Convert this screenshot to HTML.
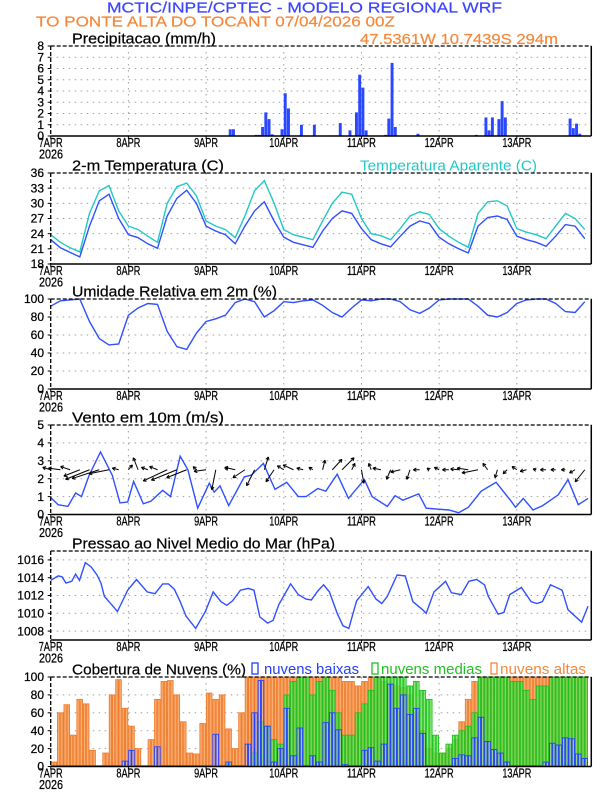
<!DOCTYPE html>
<html><head><meta charset="utf-8"><style>
html,body{margin:0;padding:0;background:#fff;}
svg{display:block;font-family:"Liberation Sans",sans-serif;}
</style></head><body>
<svg id="c" width="612" height="792" viewBox="0 0 612 792" xmlns="http://www.w3.org/2000/svg"></svg>
<script>
// ---------- data ----------
const dayLabels = ["7APR","8APR","9APR","10APR","11APR","12APR","13APR"];
const precipHours = [55,56,63,64,65,66,67,68,71,72,73,77,81,86,87,88,89,92,94,95,96,97,103,104,105,106,113,131,134,135,136,138,139,140,160,161,162,163];
const precipVals  = [0.6,0.6,0.1,0.1,0.8,2.1,1.5,0.15,0.6,3.8,2.45,1.0,1.0,0.05,0.05,0.05,1.15,0.5,2.1,5.45,4.3,0.5,0.1,1.55,6.5,0.8,0.2,0.1,1.65,0.5,1.65,1.5,3.1,1.65,1.55,0.7,1.1,0.2];
const tempTicks = [18,21,24,27,30,33,36];
const temp2m = [22.8,21.2,20.3,19.4,25.5,30.5,31.8,27.0,23.8,23.2,22.0,21.1,27.5,31.0,32.6,30.0,25.5,24.5,23.8,22.0,25.5,28.5,30.3,26.5,23.3,22.3,21.8,21.3,24.5,27.0,28.5,28.0,25.0,22.8,22.0,21.4,23.5,25.5,26.5,26.0,23.3,22.0,21.0,20.2,25.5,27.2,27.5,26.8,23.5,22.8,22.3,21.5,23.5,25.8,25.5,23.0];
const tempApar = [23.8,22.3,21.2,20.4,28.0,32.5,33.5,28.5,25.5,24.8,23.5,22.3,30.0,33.3,34.0,31.5,26.5,25.5,24.8,23.2,27.5,32.5,34.5,30.0,24.8,23.8,23.3,22.8,26.5,30.0,32.2,31.8,27.0,24.0,23.6,22.8,25.0,27.5,28.3,27.8,25.0,23.5,22.3,21.3,28.0,30.3,30.5,29.5,25.0,24.3,23.8,23.0,25.5,28.0,27.0,24.8];
const rhVals = [92,98,99,100,75,56,49,50,82,90,95,94,64,47,44,62,75,78,82,96,100,97,80,87,97,96,98,99,93,85,80,90,99,98,100,100,97,88,84,90,99,100,100,100,92,82,80,85,95,99,100,100,95,86,85,97];
const windHours = [0,2.3,5.3,7.7,9.5,11.9,15.4,19,21.4,23.8,25.6,28.6,31,34.6,37,40,42.4,45.4,49,50.5,52.3,55,59.8,62,65.7,69.3,72.9,76.5,78.9,82.5,85,88.5,92,96.9,99.3,104,106.4,108.8,113.7,116,123,126,129,133,137.6,142,143.6,146,149,152,156.8,159.8,163,166];
const windSpeed = [0.95,0.55,0.45,1.2,1.0,2.2,3.5,2.2,0.65,0.7,1.85,0.6,0.75,1.35,1.0,3.25,2.5,0.35,1.75,1.25,1.6,0.5,2.1,2.2,2.85,1.4,1.8,1.0,1.0,1.45,1.3,2.25,0.9,1.95,1.0,0.45,1.05,0.8,1.15,0.35,0.25,0.1,0.4,1.3,1.8,0.8,0.4,0.9,0.25,0.5,1.1,1.95,0.55,0.9];
const windU = [-1,-1.5,-1.2,-2,-3,-3.4,-2.5,-0.8,0.5,-0.6,-0.8,-1,-3,-3.2,-2.5,-0.4,-1.5,-0.5,0.3,-1.3,-1.5,-1,0.5,-1,-0.8,-1.3,-0.8,-0.5,0.3,1.2,1.5,0.4,0.3,-0.3,-1,-0.5,-1.2,-0.4,-0.8,-0.3,-0.6,-0.8,-1,-1.4,-2,-0.6,-0.3,-0.5,-0.6,-0.8,-0.4,-0.7,-0.6,-0.5,-0.7,-1.2];
const windV = [0.3,0.2,0.4,-0.8,-1.2,-1.1,-0.5,0.2,0.6,1.5,0.3,0.4,-1.4,-1.3,-1,0.4,-0.2,-2.5,0.3,0.3,-1,-2,1.6,-1.5,0.5,0.6,0.2,0.3,1.2,1.3,1.5,0.8,-1.7,0.8,0.2,-1.2,-0.3,-1.2,0,0.2,0.3,0,0.1,0.2,-0.4,0.8,-1,-0.5,0.4,-0.2,0.1,0,0,0,-0.4,-1.5];
const presTicks = [1008,1010,1012,1014,1016];
const presHours = [0,2.3,3.5,4.7,6.5,7.7,8.9,10.7,12.5,14.3,15.5,16.6,19,20.6,23.8,26.5,29.8,32.2,34.6,36.4,38.2,40,41.8,44.8,47.8,50.2,52.6,54.4,56.2,58.6,61,62.8,64.6,67,68.7,70.5,74.1,76.5,78.9,80.5,82.5,84.3,86.1,88.5,90.3,92.1,94.5,98.1,100.5,102.3,104,107,109.5,111.9,114.9,116,118.4,122,123.8,126.8,129.2,131.6,134,135.2,138.2,140,141.8,145.4,148.4,150.2,151.9,154.4,156.8,158,159.8,164,166];
const presVals = [1013.7,1014.2,1014.1,1013.4,1013.6,1014.4,1013.7,1015.7,1015.2,1014.3,1013.4,1011.9,1010.9,1010.2,1012.6,1013.8,1012.4,1012.2,1013.3,1013.3,1012.7,1011.3,1009.7,1008.3,1010.2,1012.4,1011.3,1010.9,1011.4,1012.6,1012.8,1012.6,1009.6,1008.9,1009.2,1011.0,1013.3,1012.1,1011.6,1011.5,1012.5,1013.2,1012.4,1010.0,1008.6,1008.3,1011.4,1013.0,1011.6,1011.1,1011.9,1014.3,1014.2,1011.3,1010.4,1010.0,1012.4,1013.6,1012.3,1012.1,1013.6,1013.8,1013.2,1011.9,1009.9,1010.1,1012.1,1012.9,1011.3,1011.1,1011.3,1013.2,1012.8,1012.6,1010.4,1009.0,1010.8];
const cloudHigh = [5,60,69,35,75,70,18,0,15,80,97,65,45,20,0,30,75,95,96,80,50,15,14,48,82,75,80,42,20,60,100,100,100,100,100,100,100,100,100,100,100,100,100,100,100,95,95,90,95,100,100,95,92,90,88,80,60,40,20,15,15,20,30,50,75,95,100,100,100,100,100,100,100,100,100,100,100,100,100,100,100,100,100];
const cloudMid = [0,0,0,0,0,0,0,0,0,0,0,0,0,0,0,0,0,0,0,0,0,0,0,0,0,0,0,2,0,0,0,15,50,45,30,25,80,95,100,100,80,95,100,85,60,35,35,60,70,85,100,100,100,100,100,90,95,85,75,35,15,25,35,40,45,60,100,100,100,100,100,95,95,85,75,90,90,100,100,100,100,100,100];
const cloudLow = [0,0,0,0,0,0,0,0,0,0,0,6,18,0,0,0,22,0,0,0,0,0,0,0,0,36,0,5,0,0,25,60,96,45,5,20,65,12,43,0,12,5,49,60,41,2,0,0,18,21,6,25,92,65,80,58,65,37,0,0,0,0,9,13,12,32,55,28,19,15,5,0,0,0,0,0,5,26,24,32,31,14,9];

// ---------- layout ----------
const svg = document.getElementById('c');
const NS = "http://www.w3.org/2000/svg";
const X0 = 50.7, PXH = 3.237, HMAX = 167;
const XR = X0 + HMAX * PXH;
function xh(h){ return X0 + h * PXH; }
function el(tag, attrs, parent){
  const e = document.createElementNS(NS, tag);
  for (const k in attrs) e.setAttribute(k, attrs[k]);
  (parent || svg).appendChild(e);
  return e;
}
function txt(s, x, y, opts, parent){
  const t = el('text', Object.assign({x:x, y:y}, opts), parent);
  t.textContent = s;
  return t;
}
const BLUE = "#3050ff", CYAN = "#22c8c8", ORANGE = "#f5883a";

// header
let t;
t = txt("MCTIC/INPE/CPTEC - MODELO REGIONAL WRF", 107, 12.5, {"font-size":14.5, fill:"#3a44ff", textLength:395, lengthAdjust:"spacingAndGlyphs", stroke:"#3a44ff", "stroke-width":0.2});


t = txt("TO PONTE ALTA DO TOCANT   07/04/2026 00Z", 36, 26.7, {"font-size":14.5, fill:ORANGE, textLength:359, lengthAdjust:"spacingAndGlyphs", "xml:space":"preserve", stroke:ORANGE, "stroke-width":0.2});


t = txt("47.5361W 10.7439S 294m", 360, 44, {"font-size":14.5, fill:ORANGE, textLength:198, lengthAdjust:"spacingAndGlyphs", stroke:ORANGE, "stroke-width":0.2});



function panel(name, top, bot, vmin, vmax, ticks, title, titleW){
  const g = el('g', {});
  
  
  const y = v => bot - (v - vmin) / (vmax - vmin) * (bot - top);
  ticks.forEach(v => {
    const yy = y(v);
    if (yy > top + 1 && yy < bot - 1) {
      const gl = el('line', {x1:X0, x2:XR, y1:yy, y2:yy, stroke:"#a0a0a0", "stroke-width":1, "stroke-dasharray":"1.5,4.5"}, g);
      
      
    }
    const tk = el('line', {x1:X0-3, x2:X0, y1:yy, y2:yy, stroke:"#000"}, g);
    
    
    const lb = txt(String(v), 44, yy + 4.2, {"font-size":12, "text-anchor":"end", fill:"#000", stroke:"#000", "stroke-width":0.25}, g);
    
    
  });
  dayLabels.forEach((d, i) => {
    const xx = xh(i * 24);
    if (i > 0) {
      const gl = el('line', {x1:xx, x2:xx, y1:top, y2:bot, stroke:"#a0a0a0", "stroke-width":1, "stroke-dasharray":"1.5,4.5"}, g);
      
      
    }
    const tk = el('line', {x1:xx, x2:xx, y1:bot, y2:bot+3, stroke:"#000"}, g);
    
    
    const w = d.length === 4 ? 24 : 29;
    const lb = txt(d, xx - w/2, bot + 11, {"font-size":12.5, fill:"#000", textLength:w, lengthAdjust:"spacingAndGlyphs", stroke:"#000", "stroke-width":0.25}, g);
    
    
  });
  const yr = txt("2026", 39, bot + 22.5, {"font-size":12.5, fill:"#000", textLength:24, lengthAdjust:"spacingAndGlyphs", stroke:"#000", "stroke-width":0.25}, g);
  
  
  const tt = txt(title, 72, top - 2.5, {"font-size":14.5, fill:"#000", textLength:titleW, lengthAdjust:"spacingAndGlyphs", stroke:"#000", "stroke-width":0.2}, g);
  
  
  const plot = el('g', {}, g);
  
  
  return {g, plot, y, top, bot};
}
function frame(p, name){
  const f = el('g', {}, p.g);
  
  
  el('line', {x1:X0, x2:XR, y1:p.top, y2:p.top, stroke:"#000", "stroke-width":1.3, "stroke-dasharray":"4,2"}, f);
  el('line', {x1:X0, x2:X0, y1:p.top, y2:p.bot, stroke:"#000", "stroke-width":1.3, "stroke-dasharray":"4,2"}, f);
  el('line', {x1:XR, x2:XR, y1:p.top, y2:p.bot, stroke:"#000", "stroke-width":1.5}, f);
  el('line', {x1:X0, x2:XR, y1:p.bot, y2:p.bot, stroke:"#000", "stroke-width":1.5}, f);
}
function linePath(p, hours, vals, color, name){
  const d = vals.map((v, i) => (i ? "L" : "M") + xh(hours[i]).toFixed(1) + "," + p.y(v).toFixed(1)).join("");
  const pa = el('path', {d:d, fill:"none", stroke:color, "stroke-width":1.4}, p.plot);
  
  
}
const hours3 = temp2m.map((_, i) => i * 3);

// 1 precipitation
const p1 = panel('precipitation', 46, 136, 0, 8, [0,1,2,3,4,5,6,7,8], "Precipitacao (mm/h)", 144);
precipHours.forEach((h, i) => {
  const yv = p1.y(precipVals[i]);
  const r = el('rect', {x:xh(h), y:yv, width:PXH - 0.3, height:Math.max(0.6, p1.bot - yv), fill:"#2a48ff"}, p1.plot);
  
  
});
frame(p1, 'precipitation');

// 2 temperature
const p2 = panel('temperature', 173, 264, 18, 36, tempTicks, "2-m Temperatura (C)", 152);
t = txt("Temperatura Aparente (C)", 360, 170.5, {"font-size":14.5, fill:CYAN, textLength:177, lengthAdjust:"spacingAndGlyphs"}, p2.g);


linePath(p2, hours3, tempApar, CYAN, 'apparent-temperature-line');
linePath(p2, hours3, temp2m, BLUE, 'temperature-line');
frame(p2, 'temperature');

// 3 RH
const p3 = panel('humidity', 299, 389, 0, 100, [0,20,40,60,80,100], "Umidade Relativa em 2m (%)", 205);
linePath(p3, hours3, rhVals, BLUE, 'humidity-line');
frame(p3, 'humidity');

// 4 wind
const p4 = panel('wind', 425, 514.5, 0, 5, [0,1,2,3,4,5], "Vento em 10m (m/s)", 152);
linePath(p4, windHours, windSpeed, BLUE, 'wind-speed-line');
const K = 8, ay = p4.y(2.5);
windU.forEach((u, i) => {
  const v = windV[i];
  const x0 = xh(i * 3), x1 = x0 + u * K, y1 = ay - v * K;
  const g = el('g', {stroke:"#000", "stroke-width":1, fill:"none"}, p4.plot);
  
  
  el('line', {x1:x0, y1:ay, x2:x1, y2:y1}, g);
  const ang = Math.atan2(y1 - ay, x1 - x0), hl = 3.5;
  [0.5, -0.5].forEach(da => {
    el('line', {x1:x1, y1:y1, x2:x1 - hl * Math.cos(ang + da), y2:y1 - hl * Math.sin(ang + da)}, g);
  });
});
frame(p4, 'wind');

// 5 pressure
const p5 = panel('pressure', 551, 640, 1007, 1017, presTicks, "Pressao ao Nivel Medio do Mar (hPa)", 263);
linePath(p5, presHours, presVals, BLUE, 'pressure-line');
frame(p5, 'pressure');

// 6 clouds
const p6 = panel('clouds', 677, 766.5, 0, 100, [0,20,40,60,80,100], "Cobertura de Nuvens (%)", 174);
function cloudBars(vals, fill, stroke, name){
  vals.forEach((v, i) => {
    if (v <= 0) {
      const r0 = el('line', {x1:xh(i*2), x2:xh(i*2+2), y1:p6.bot-0.5, y2:p6.bot-0.5, stroke:stroke, "stroke-width":1.2}, p6.plot);
      
      
      return;
    }
    const yv = p6.y(v);
    [0, 1].forEach(k => {
      const r = el('rect', {x:xh(i*2 + k)+0.3, y:yv, width:PXH-0.9, height:p6.bot - yv, fill:fill, stroke:stroke, "stroke-width":0.9}, p6.plot);
      
      
    });
  });
}
cloudBars(cloudHigh, "rgba(246,165,100,0.9)", "#f07a2a", 'high-cloud-bar');
cloudBars(cloudMid, "rgba(100,225,80,0.75)", "#22c022", 'mid-cloud-bar');
cloudBars(cloudLow, "rgba(190,200,255,0.35)", "#2440ff", 'low-cloud-bar');
frame(p6, 'clouds');
const legend = [["nuvens baixas", "#2440ff", 252, 264, 95], ["nuvens medias", "#22c022", 372, 381, 101], ["nuvens altas", ORANGE, 491, 500, 86]];
legend.forEach(([lab, col, bx, tx, w]) => {
  const g = el('g', {}, p6.g);
  
  
  el('rect', {x:bx, y:663, width:6, height:11, fill:"#fff", stroke:col, "stroke-width":1.3}, g);
  txt(lab, tx, 674, {"font-size":14.5, fill:col, textLength:w, lengthAdjust:"spacingAndGlyphs"}, g);
});
</script>
</body></html>
